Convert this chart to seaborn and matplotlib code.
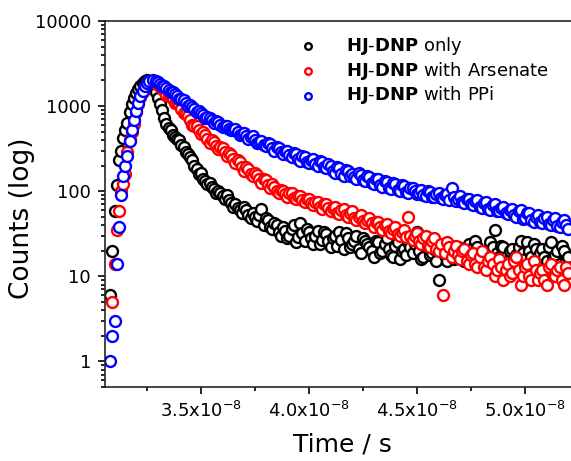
import numpy as np
import pandas as pd
import seaborn as sns
import matplotlib.pyplot as plt
from matplotlib.ticker import LogLocator, NullFormatter

# time axis of the decay histogram (units of 1e-8 s)
t_rise = np.round(np.arange(3.08, 3.265, 0.01), 2)
t_decay = np.round(np.arange(3.28, 5.205, 0.02), 2)
t_mid = np.round(np.arange(3.29, 5.195, 0.02), 2)

black_rise = [6, 20, 58, 117, 230, 300, 420, 520, 640, 850,
              1070, 1250, 1420, 1580, 1730, 1850, 1950, 2000, 1900]
red_rise = [np.nan, 5, 14, 35, 58, 100, 120, 160, 290, 400,
            500, 620, 850, 1050, 1280, 1480, 1700, 1850, 1950]
blue_rise = [1, 2, 3, 14, 38, 90, 150, 200, 260, 390,
             520, 680, 880, 1080, 1300, 1500, 1700, 1850, 1950]

black_decay = [1650, 1250, 900, 620, 520, 430, 400, 330, 270, 230,
               180, 165, 130, 125, 105, 100, 88, 90, 72, 70,
               60, 66, 52, 56, 45, 62, 48, 38, 42, 33,
               38, 28, 36, 25, 42, 26, 33, 24, 34, 27,
               31, 22, 30, 33, 21, 28, 24, 30, 19, 26,
               22, 17, 25, 20, 28, 18, 23, 16, 21, 25,
               19, 33, 16, 22, 18, 21, 9, 20, 15, 23,
               17, 21, 15, 24, 18, 22, 16, 20, 25, 35,
               17, 22, 15, 21, 18, 26, 16, 20, 24, 15,
               21, 15, 25, 18, 14, 20, 17]
black_mid = [1450, 1050, 720, 560, 460, 410, 350, 290, 250, 200,
             160, 140, 120, 112, 95, 96, 80, 78, 66, 64,
             56, 60, 48, 50, 52, 40, 46, 36, 40, 30,
             34, 30, 40, 29, 32, 36, 28, 30, 24, 33,
             26, 28, 23, 27, 32, 22, 26, 21, 28, 24,
             20, 26, 19, 24, 21, 17, 25, 20, 18, 22,
             24, 20, 17, 25, 19, 15, 22, 18, 20, 16,
             22, 19, 17, 21, 26, 18, 20, 15, 22, 19,
             23, 17, 20, 16, 22, 19, 25, 17, 21, 19,
             17, 22, 16, 20, 23, 15]
red_decay = [1950, 1750, 1650, 1350, 1300, 1100, 1050, 820, 760, 600,
             580, 470, 460, 370, 380, 310, 320, 260, 265, 215,
             220, 175, 180, 150, 155, 125, 135, 108, 112, 96,
             100, 86, 94, 80, 88, 74, 80, 68, 75, 62,
             70, 58, 66, 54, 62, 50, 58, 46, 52, 42,
             48, 38, 44, 35, 41, 32, 38, 30, 35, 50,
             27, 32, 24, 30, 22, 28, 20, 6, 25, 17,
             23, 16, 21, 14, 19, 13, 20, 12, 17, 10,
             16, 9, 14, 11, 17, 8, 13, 10, 15, 9,
             12, 8, 14, 10, 13, 8, 11]
red_mid = [1850, 1700, 1500, 1330, 1200, 1080, 920, 800, 680, 590,
           520, 500, 410, 400, 340, 330, 290, 280, 240, 230,
           195, 190, 160, 165, 140, 140, 118, 120, 100, 104,
           92, 96, 84, 88, 78, 82, 72, 74, 65, 70,
           63, 64, 56, 60, 52, 56, 48, 50, 45, 46,
           42, 44, 38, 40, 34, 36, 31, 33, 29, 30,
           30, 26, 28, 23, 26, 21, 24, 19, 22, 20,
           18, 20, 15, 18, 14, 17, 13, 15, 14, 12,
           13, 12, 10, 15, 12, 10, 14, 9, 12, 11,
           9, 13, 10, 12, 9, 13]
blue_decay = [2050, 1900, 1700, 1650, 1450, 1400, 1200, 1180, 1000, 980,
              860, 840, 730, 720, 640, 650, 570, 590, 520, 540,
              460, 480, 410, 440, 370, 390, 340, 360, 300, 320,
              275, 295, 250, 270, 225, 250, 215, 240, 200, 220,
              185, 200, 165, 185, 150, 172, 160, 140, 155, 130,
              145, 122, 138, 112, 128, 105, 120, 100, 115, 96,
              108, 92, 104, 88, 98, 85, 95, 80, 92, 110,
              76, 88, 72, 82, 68, 78, 64, 74, 60, 70,
              58, 66, 54, 62, 50, 60, 48, 56, 44, 52,
              42, 50, 40, 48, 38, 46, 36]
blue_mid = [1980, 1800, 1720, 1550, 1480, 1300, 1220, 1100, 1020, 920,
            880, 780, 740, 680, 660, 600, 580, 540, 530, 500,
            470, 440, 430, 400, 380, 350, 370, 320, 330, 290,
            300, 265, 280, 240, 260, 220, 230, 210, 225, 190,
            210, 175, 190, 160, 178, 150, 145, 162, 135, 150,
            126, 140, 118, 132, 108, 125, 102, 118, 98, 110,
            100, 96, 90, 100, 86, 92, 84, 90, 78, 86,
            82, 74, 80, 70, 76, 66, 72, 62, 68, 58,
            64, 56, 60, 52, 58, 47, 55, 46, 50, 43,
            48, 41, 46, 39, 44, 40]

series_names = [r'$\mathbf{HJ}$-$\mathbf{DNP}$ only',
                r'$\mathbf{HJ}$-$\mathbf{DNP}$ with Arsenate',
                r'$\mathbf{HJ}$-$\mathbf{DNP}$ with PPi']
series_colors = ['#000000', '#ff0000', '#0000ff']

ytick_vals = [1, 10, 100, 1000, 10000]
ytick_labels = ['1', '10', '100', '1000', '10000']
xtick_vals = [3.5e-8, 4.0e-8, 4.5e-8, 5.0e-8]
xtick_labels = ['3.5x10$^{-8}$', '4.0x10$^{-8}$', '4.5x10$^{-8}$', '5.0x10$^{-8}$']
xminor_vals = [3.25e-8, 3.75e-8, 4.25e-8, 4.75e-8]

t_all = np.concatenate([t_rise, t_decay, t_mid]) * 1e-8
dfs = []
for name, rise, decay, mid in zip(series_names,
                                  [black_rise, red_rise, blue_rise],
                                  [black_decay, red_decay, blue_decay],
                                  [black_mid, red_mid, blue_mid]):
    dfs.append(pd.DataFrame({
        'series': name,
        'time': t_all,
        'counts': np.concatenate([rise, decay, mid]),
    }).sort_values('time'))
df = pd.concat(dfs)

sns.set_style('ticks')
plt.rcParams['font.family'] = ['DejaVu Sans']
plt.rcParams['mathtext.fontset'] = 'dejavusans'
plt.rcParams['axes.linewidth'] = 1.2
plt.rcParams['text.color'] = 'black'
plt.rcParams['axes.labelcolor'] = 'black'

fig = plt.figure(figsize=(5.71, 4.61), dpi=100)
ax = fig.add_axes([105 / 571, 1 - 387 / 461, 466 / 571, 366 / 461])

for name, col in zip(series_names, series_colors):
    sns.scatterplot(
            data=df[df.series == name],
            x='time',
            y='counts',
            ax=ax,
            marker='o',
            s=62,
            facecolor='white',
            edgecolor=col,
            linewidth=1.7,
            label=name,
    )

ax.set_yscale('log')
ax.set_ylim(0.5, 10000)
ax.set_xlim(3.056e-8, 5.213e-8)

ax.set_yticks(ytick_vals, ytick_labels)
ax.yaxis.set_minor_locator(LogLocator(base=10, subs=np.arange(2, 10)))
ax.yaxis.set_minor_formatter(NullFormatter())
ax.set_xticks(xtick_vals, xtick_labels)
ax.set_xticks(xminor_vals, minor=True)

ax.tick_params(which='both', direction='out', width=1.2, labelsize=13,
               top=False, right=False, colors='black')
ax.tick_params(which='major', length=5, pad=5)
ax.tick_params(which='minor', length=3)
ax.spines['right'].set_visible(False)

ax.set_xlabel('Time / s', fontsize=18)
ax.set_ylabel('Counts (log)', fontsize=19)
ax.xaxis.set_label_coords(0.51, -0.125)
ax.yaxis.set_label_coords(-0.15, 0.46)

ax.legend(loc='upper left', bbox_to_anchor=(0.396, 0.962), frameon=False,
          fontsize=13, handlelength=2, handletextpad=1.1, labelspacing=0.15,
          borderpad=0, borderaxespad=0, markerscale=0.6)

fig.savefig('out.png', dpi=100)
